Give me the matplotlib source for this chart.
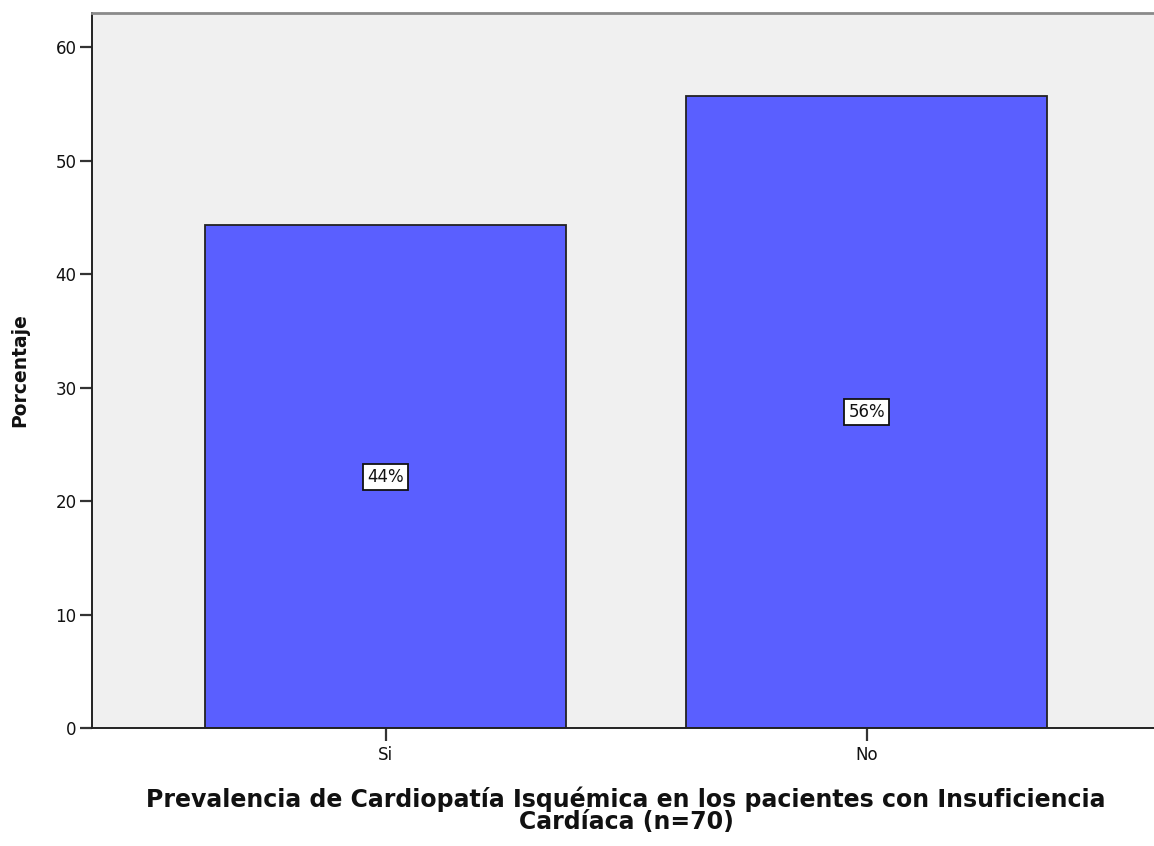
import matplotlib
matplotlib.use("Agg")
import matplotlib.pyplot as plt

categories = ["Si", "No"]
percentages = [44.29, 55.71]
labels = ["44%", "56%"]
yticks = [0, 10, 20, 30, 40, 50, 60]

plt.rcParams['font.family'] = ['DejaVu Sans']

fig = plt.figure(figsize=(11.54, 8.46), dpi=100)
ax = fig.add_axes([0.0797, 0.1395, 0.9203, 0.845])
ax.set_facecolor("#f0f0f0")

x = list(range(len(categories)))
ax.bar(x, percentages, width=0.75, color="#5a5fff", edgecolor="#222222", linewidth=1.3, zorder=2)
for xi, v, lab in zip(x, percentages, labels):
    ax.text(xi, v / 2, lab, ha="center", va="center", fontsize=12, color="#111111",
            bbox=dict(boxstyle="square,pad=0.25", facecolor="white", edgecolor="#111111", linewidth=1.3), zorder=3)

ax.set_xlim(-0.611, 1.597)
ax.set_ylim(0, 63)
ax.set_yticks(yticks)
ax.set_xticks(x)
ax.set_xticklabels(categories)
ax.tick_params(axis="y", direction="out", length=9, width=1.6, labelsize=12, pad=2, color="#333333", labelcolor="#111111")
ax.tick_params(axis="x", direction="out", length=9, width=1.6, labelsize=12, pad=4, color="#333333", labelcolor="#111111")

for s in ["left", "bottom"]:
    ax.spines[s].set_color("#222222")
    ax.spines[s].set_linewidth(1.4)
ax.spines["top"].set_color("#8a8a8a")
ax.spines["top"].set_linewidth(2)
ax.spines["right"].set_visible(False)

ax.set_ylabel("Porcentaje", fontsize=13.5, fontweight="bold", color="#111111")
ax.yaxis.set_label_coords(-0.059, 0.5)

ax.set_xlabel("Prevalencia de Cardiopatía Isquémica en los pacientes con Insuficiencia\nCardíaca (n=70)",
              fontsize=17, fontweight="bold", linespacing=0.88, color="#111111")
ax.xaxis.set_label_coords(0.503, -0.082)
ax.xaxis.label.set_va("top")

fig.savefig("out.png", dpi=100)
